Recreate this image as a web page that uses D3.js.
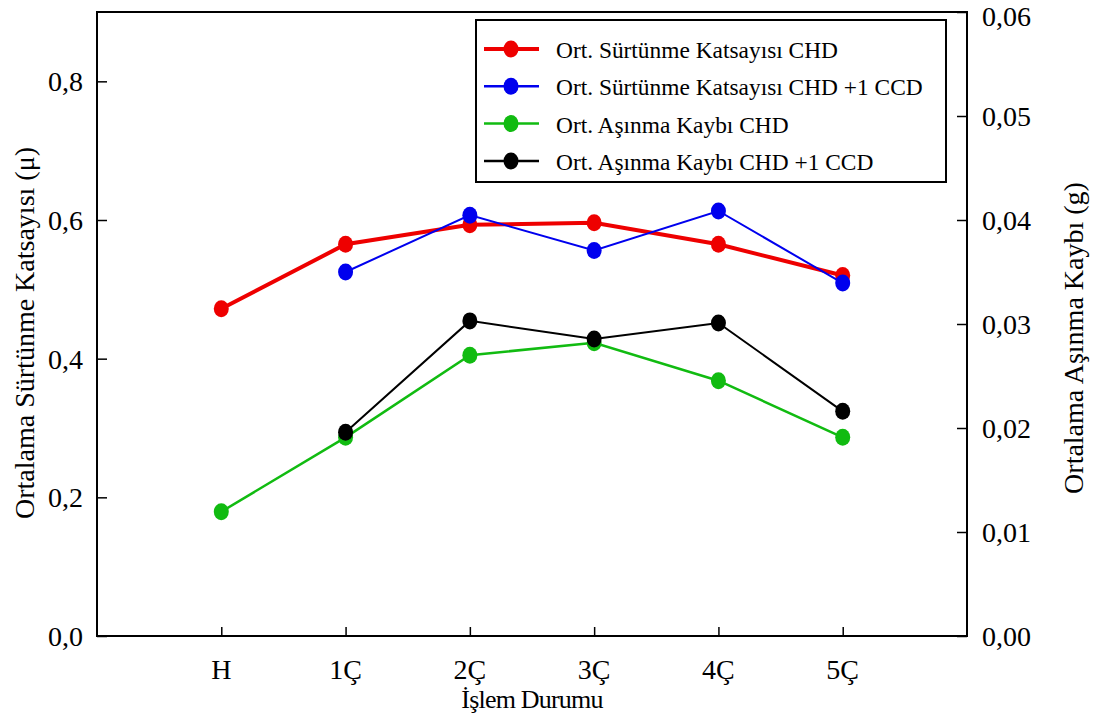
<!DOCTYPE html>
<html><head><meta charset="utf-8">
<script src="https://cdn.jsdelivr.net/npm/d3@7"></script>
<style>body{margin:0;background:#fff}svg{display:block}text{font-family:"Liberation Serif","Times New Roman",serif}</style>
</head><body><svg id="c" width="1098" height="725"></svg>
<script>
const categories = ["H","1Ç","2Ç","3Ç","4Ç","5Ç"];
const frictionCHD = [0.472,0.565,0.593,0.596,0.565,0.520];
const frictionCCD = [null,0.525,0.607,0.556,0.613,0.509];
const wearCHD = [0.01195,0.0191,0.0270,0.0282,0.02455,0.0191];
const wearCCD = [null,0.0196,0.0303,0.02855,0.0301,0.0216];
const leftTicks = [0,0.2,0.4,0.6,0.8];
const rightTicks = [0,0.01,0.02,0.03,0.04,0.05,0.06];
const seriesNames = ["Ort. Sürtünme Katsayısı CHD","Ort. Sürtünme Katsayısı CHD +1 CCD","Ort. Aşınma Kaybı CHD","Ort. Aşınma Kaybı CHD +1 CCD"];

const svg = d3.select("#c");
const L=97,R=967,T=12,B=636;
const x = d3.scaleLinear().domain([0,categories.length+1]).range([L,R]);
const yL = d3.scaleLinear().domain([0,0.9]).range([B,T]);
const yR = d3.scaleLinear().domain([0,0.06]).range([B,T]);
const fmt = d => d3.format(".1f")(d).replace(".",",");
const fmtR = d => d3.format(".2f")(d).replace(".",",");

// axes
const gl = svg.append("g").attr("transform",`translate(${L},0)`)
  .call(d3.axisRight(yL).tickValues(leftTicks).tickSize(10).tickFormat(""));
const gr = svg.append("g").attr("transform",`translate(${R},0)`)
  .call(d3.axisLeft(yR).tickValues(rightTicks).tickSize(10).tickFormat(""));
const gb = svg.append("g").attr("transform",`translate(0,${B})`)
  .call(d3.axisTop(x).tickValues(d3.range(1,categories.length+1)).tickSize(9).tickFormat(""));
[gl,gr,gb].forEach(g=>{g.select(".domain").remove();g.selectAll("line").attr("stroke","#000").attr("stroke-width",1.5);});
svg.append("rect").attr("x",L).attr("y",T).attr("width",R-L).attr("height",B-T)
  .attr("fill","none").attr("stroke","#000").attr("stroke-width",2);

svg.selectAll(".lt").data(leftTicks).join("text").attr("x",83).attr("y",d=>yL(d)+10)
  .attr("text-anchor","end").attr("font-size",28).text(fmt);
svg.selectAll(".rt").data(rightTicks).join("text").attr("x",982).attr("y",d=>Math.max(yR(d)+10,26))
  .attr("text-anchor","start").attr("font-size",28).text(fmtR);
svg.selectAll(".xt").data(categories).join("text").attr("x",(d,i)=>x(i+1)).attr("y",679)
  .attr("text-anchor","middle").attr("font-size",28).text(d=>d);

svg.append("text").attr("x",532).attr("y",708).attr("text-anchor","middle").attr("font-size",26)
  .attr("letter-spacing",-0.8).text("İşlem Durumu");
svg.append("text").attr("transform","translate(34,333) rotate(-90)").attr("text-anchor","middle").attr("font-size",28).text("Ortalama Sürtünme Katsayısı (μ)");
svg.append("text").attr("transform","translate(1083,338) rotate(-90)").attr("text-anchor","middle").attr("font-size",28).text("Ortalama Aşınma Kaybı (g)");

const series = [
  {vals:frictionCHD, y:yL, color:"#ee0000", w:4},
  {vals:frictionCCD, y:yL, color:"#0000ee", w:2},
  {vals:wearCHD, y:yR, color:"#11bb11", w:2.5},
  {vals:wearCCD, y:yR, color:"#000000", w:2}
];
series.forEach(s=>{
  const pts = s.vals.map((v,i)=>({i,v})).filter(p=>p.v!=null);
  svg.append("path").datum(pts).attr("fill","none").attr("stroke",s.color).attr("stroke-width",s.w)
    .attr("d",d3.line().x(p=>x(p.i+1)).y(p=>s.y(p.v)));
  svg.append("g").selectAll("ellipse").data(pts).join("ellipse")
    .attr("cx",p=>x(p.i+1)).attr("cy",p=>s.y(p.v)).attr("rx",7.5).attr("ry",8.5).attr("fill",s.color);
});

// legend
const lg = svg.append("g");
lg.append("rect").attr("x",476).attr("y",20).attr("width",470).attr("height",162)
  .attr("fill","#fff").attr("stroke","#000").attr("stroke-width",2);
seriesNames.forEach((n,k)=>{
  const yy = 49 + k*37.3;
  lg.append("line").attr("x1",484).attr("x2",539).attr("y1",yy).attr("y2",yy)
    .attr("stroke",series[k].color).attr("stroke-width",k===0?4:2.5);
  lg.append("ellipse").attr("cx",511).attr("cy",yy).attr("rx",7.5).attr("ry",8.5).attr("fill",series[k].color);
  lg.append("text").attr("x",556).attr("y",yy+9).attr("font-size",23.4).text(n);
});
</script></body></html>
